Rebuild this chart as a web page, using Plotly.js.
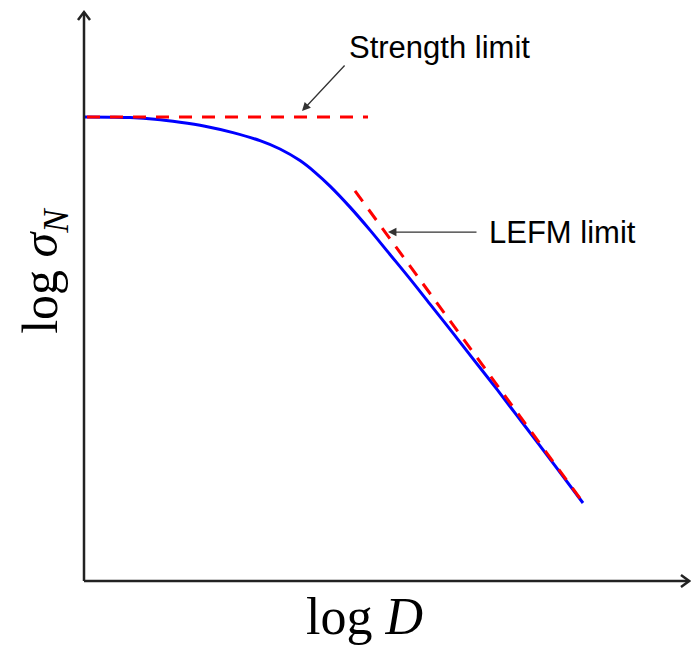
<!DOCTYPE html>
<html>
<head>
<meta charset="utf-8">
<script src="https://cdn.plot.ly/plotly-3.0.1.min.js"></script>
<style>html,body{margin:0;padding:0;background:#fff;}#chart{width:691px;height:653px;}</style>
</head>
<body>
<div id="chart"></div>
<script>
// log D (arbitrary units) and log sigma_N (arbitrary units)
const sizeEffectX = [0.0125, 0.325, 0.575, 0.8875, 1.2, 1.5125, 1.8625, 2.2, 2.45, 2.7, 2.8875, 3.075, 3.325, 3.575, 3.825, 4.075, 4.325, 4.6125, 4.8875, 5.1625, 5.4125, 5.6625, 5.95, 6.2375];
const sizeEffectY = [2.1091, 2.1082, 2.1064, 2.0991, 2.0855, 2.0673, 2.0382, 2.0014, 1.9636, 1.9109, 1.8577, 1.795, 1.6995, 1.595, 1.4841, 1.3732, 1.2586, 1.1268, 0.9986, 0.8709, 0.7518, 0.6327, 0.4936, 0.3545];
const strengthX = [0.0375, 3.55];
const strengthY = [2.109, 2.109];
const lefmX = [3.3875, 6.2375];
const lefmY = [1.773, 0.357];
const labels = {strength: "Strength limit", lefm: "LEFM limit", xTitle: "log <i>D</i>", yTitle: "log <i>σ</i><sub><i>N</i></sub>"};

const dashStyle = "13px,10px";
const traces = [
  {x: sizeEffectX, y: sizeEffectY, mode: "lines", line: {color: "#0000ff", width: 3, shape: "spline", smoothing: 1}, hoverinfo: "skip", showlegend: false},
  {x: strengthX, y: strengthY, mode: "lines", line: {color: "#ff0000", width: 3, dash: dashStyle}, hoverinfo: "skip", showlegend: false},
  {x: lefmX, y: lefmY, mode: "lines", line: {color: "#ff0000", width: 3, dash: dashStyle}, hoverinfo: "skip", showlegend: false}
];

const sans = "'Liberation Sans', Arial, sans-serif";
const serif = "'Liberation Serif', 'Times New Roman', serif";
const axCol = "#222";

const layout = {
  width: 691, height: 653,
  margin: {l: 84, r: 0, t: 12, b: 72, pad: 0},
  paper_bgcolor: "#fff", plot_bgcolor: "#fff",
  xaxis: {range: [0, 7.5875], showgrid: false, zeroline: false, showline: false, showticklabels: false, ticks: "", fixedrange: true},
  yaxis: {range: [0, 2.5864], showgrid: false, zeroline: false, showline: false, showticklabels: false, ticks: "", fixedrange: true},
  shapes: [
    {type: "line", xref: "paper", yref: "paper", x0: 0, y0: 0, x1: 0, y1: 1, line: {color: axCol, width: 2.5}},
    {type: "line", xref: "paper", yref: "paper", x0: 0, y0: 0, x1: 0.997, y1: 0, line: {color: axCol, width: 2.5}},
    {type: "path", xref: "paper", yref: "paper", path: "M -0.0099,0.9859 L 0,1 L 0.0099,0.9859", line: {color: axCol, width: 2.5}},
    {type: "path", xref: "paper", yref: "paper", path: "M 0.9835,0.0105 L 0.997,0 L 0.9835,-0.0105", line: {color: axCol, width: 2.5}}
  ],
  annotations: [
    {x: 2.725, y: 2.136, ax: 3.275, ay: 2.35, xref: "x", yref: "y", axref: "x", ayref: "y", text: "", showarrow: true, arrowhead: 2, arrowsize: 1.3, arrowwidth: 1.3, arrowcolor: "#333"},
    {x: 3.8, y: 1.586, ax: 4.925, ay: 1.586, xref: "x", yref: "y", axref: "x", ayref: "y", text: "", showarrow: true, arrowhead: 2, arrowsize: 1.3, arrowwidth: 1.3, arrowcolor: "#333"},
    {x: 3.2875, y: 2.423, xref: "x", yref: "y", text: labels.strength, showarrow: false, xanchor: "left", yanchor: "middle", font: {family: sans, size: 31, color: "#000"}},
    {x: 5.0375, y: 1.586, xref: "x", yref: "y", text: labels.lefm, showarrow: false, xanchor: "left", yanchor: "middle", font: {family: sans, size: 31, color: "#000"}},
    {x: 0.462, y: -0.063, xref: "paper", yref: "paper", text: labels.xTitle, showarrow: false, xanchor: "center", yanchor: "middle", font: {family: serif, size: 52, color: "#000"}},
    {x: -0.066, y: 0.545, xref: "paper", yref: "paper", text: labels.yTitle, showarrow: false, textangle: -90, xanchor: "center", yanchor: "middle", font: {family: serif, size: 50, color: "#000"}}
  ]
};

Plotly.newPlot("chart", traces, layout, {staticPlot: true, displayModeBar: false});
</script>
</body>
</html>
